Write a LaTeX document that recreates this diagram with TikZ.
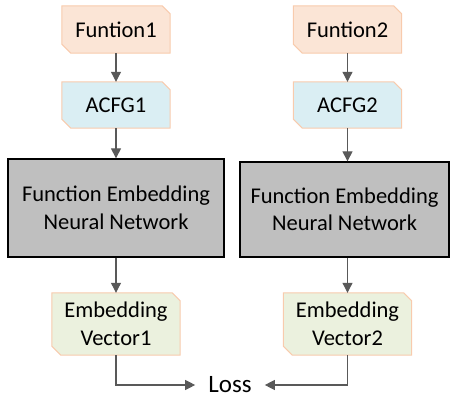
\documentclass[tikz,border=0pt]{standalone}
\usepackage{fontspec}
\setmainfont{Carlito}
\usepackage{xcolor}
\usetikzlibrary{arrows.meta, backgrounds}
\definecolor{funfill}{HTML}{FBE5D6}
\definecolor{acfgfill}{HTML}{DAEEF3}
\definecolor{embfill}{HTML}{EBF1DE}
\definecolor{cardline}{HTML}{F8CBAD}
\definecolor{nngray}{HTML}{BFBFBF}
\definecolor{arrowgray}{HTML}{595959}
\tikzstyle{arrow} = [draw=arrowgray, line width=1.1pt, -{Triangle[width=10pt,length=10pt]}]
\tikzstyle{card} = [rectangle, inner sep=0pt, minimum width=108pt, minimum height=47pt, align=center,
    font=\fontsize{22.5}{27.5}\selectfont]
\tikzstyle{cardline} = [draw=cardline, line width=1pt]
\tikzstyle{nnbox} = [rectangle, draw=black, fill=nngray, line width=1.3pt, align=center,
    font=\fontsize{22.5}{27.5}\selectfont]

\begin{document}
\begin{tikzpicture}[x=1pt, y=1pt]
    \useasboundingbox (0,0) rectangle (450,-398);
    \node (fun1) [card] at (116,-29.5) {Funtion1};
    \node (acfg1) [card, minimum height=46pt] at (116,-105) {ACFG1};
    \node (nn1) [nnbox, minimum width=216pt, minimum height=98pt] at (116,-208) {Function Embedding\\Neural Network};
    \node (emb1) [card, minimum width=128pt, minimum height=62pt] at (116,-324) {Embedding\\Vector1};

    \node (fun2) [card] at (347.5,-29.5) {Funtion2};
    \node (acfg2) [card, minimum height=46pt] at (347.5,-105) {ACFG2};
    \node (nn2) [nnbox, minimum width=209pt, minimum height=95pt] at (344.5,-209.5) {Function Embedding\\Neural Network};
    \node (emb2) [card, minimum width=128pt, minimum height=62pt] at (347.5,-324) {Embedding\\Vector2};

    \node (loss) [inner xsep=13pt, inner ysep=0pt, font=\fontsize{25}{30}\selectfont] at (230,-385) {Loss};

    % cut-corner outlines behind the text
    \begin{pgfonlayer}{background}
        \foreach \n/\c in {fun1/funfill, fun2/funfill, acfg1/acfgfill, acfg2/acfgfill, emb1/embfill, emb2/embfill}
            \draw[cardline, fill=\c] (\n.north west) -- ([xshift=-8pt]\n.north east) -- ([yshift=-8pt]\n.north east)
                -- (\n.south east) -- ([xshift=9pt]\n.south west) -- ([yshift=9pt]\n.south west) -- cycle;
    \end{pgfonlayer}

    \path
        (fun1) edge[arrow] (acfg1)
        (acfg1) edge[arrow] (nn1)
        (nn1) edge[arrow] (emb1)
        (fun2) edge[arrow] (acfg2)
        (acfg2.south) edge[arrow] (acfg2.south |- nn2.north)
        (emb2.north |- nn2.south) edge[arrow] (emb2.north);
    \draw[arrow] (emb1.south) |- (loss.west);
    \draw[arrow] (emb2.south) |- (loss.east);
\end{tikzpicture}
\end{document}
